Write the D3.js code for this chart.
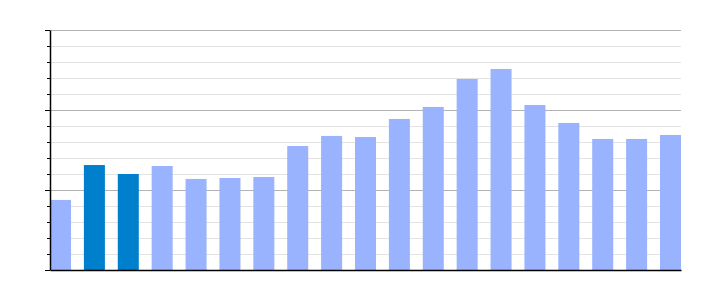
<!DOCTYPE html>
<html>
<head>
<meta charset="utf-8">
<script src="https://cdn.jsdelivr.net/npm/d3@7"></script>
<style>
  body { margin: 0; background: #fff; }
</style>
</head>
<body>
<div class="chart"></div>
<script>
const categories = ["1", "2", "3", "4", "5", "6", "7", "8", "9", "10",
  "11", "12", "13", "14", "15", "16", "17", "18", "19"];
const values = [4.38, 6.56, 6.0, 6.5, 5.69, 5.75, 5.81, 7.75, 8.38, 8.31,
  9.44, 10.19, 11.94, 12.56, 10.31, 9.19, 8.19, 8.19, 8.44];
const highlighted = ["2", "3"];
const majorTicks = [0, 5, 10, 15];
const minorTicks = d3.range(0, 16);

const width = 710,
  height = 300,
  plotLeft = 50,
  plotRight = 681,
  plotTop = 30,
  plotBottom = 270;

const svg = d3
  .select(".chart")
  .append("svg")
  .attr("width", width)
  .attr("height", height);

const xScale = d3
  .scaleBand()
  .domain(categories)
  .range([plotLeft, plotRight])
  .paddingInner(0.38)
  .paddingOuter(0);

const yScale = d3.scaleLinear().domain([0, 15]).range([plotBottom, plotTop]);

// minor grid
svg
  .append("g")
  .selectAll("line")
  .data(minorTicks.filter((d) => d % 5 !== 0))
  .enter()
  .append("line")
  .attr("x1", plotLeft)
  .attr("x2", plotRight)
  .attr("y1", (d) => Math.round(yScale(d)) + 0.5)
  .attr("y2", (d) => Math.round(yScale(d)) + 0.5)
  .attr("stroke", "#e3e3e3");

// major grid
svg
  .append("g")
  .selectAll("line")
  .data(majorTicks.slice(1))
  .enter()
  .append("line")
  .attr("x1", plotLeft)
  .attr("x2", plotRight)
  .attr("y1", (d) => Math.round(yScale(d)) + 0.5)
  .attr("y2", (d) => Math.round(yScale(d)) + 0.5)
  .attr("stroke", "#b3b3b3");

// bars
svg
  .append("g")
  .selectAll("rect")
  .data(values)
  .enter()
  .append("rect")
  .attr("x", (d, i) => xScale(categories[i]))
  .attr("y", (d) => yScale(d))
  .attr("width", xScale.bandwidth())
  .attr("height", (d) => plotBottom - yScale(d))
  .style("fill", (d, i) =>
    highlighted.includes(categories[i]) ? "#007fcc" : "#99b3ff"
  );

// y axis, minor then major ticks
svg
  .append("g")
  .attr("transform", "translate(" + plotLeft + ",0)")
  .call(d3.axisLeft(yScale).tickValues(minorTicks).tickSize(3).tickFormat(""))
  .call((g) => g.select(".domain").remove());

svg
  .append("g")
  .attr("transform", "translate(" + plotLeft + ",0)")
  .call(d3.axisLeft(yScale).tickValues(majorTicks).tickSize(5).tickSizeOuter(0).tickFormat(""))
  .call((g) => g.select(".domain").attr("stroke-width", 1.5));

// x axis line
svg
  .append("g")
  .attr("transform", "translate(0," + plotBottom + ")")
  .call(d3.axisBottom(xScale).tickSize(0).tickFormat(""))
  .call((g) => g.select(".domain").attr("stroke-width", 1.5));
</script>
</body>
</html>
